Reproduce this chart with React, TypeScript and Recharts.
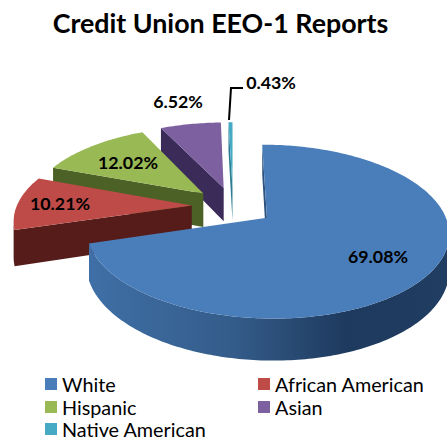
import { PieChart, Pie, Legend } from 'recharts';

const names = ['White', 'African American', 'Hispanic', 'Asian', 'Native American'];
const shares = [69.08, 10.21, 12.02, 6.52, 0.43];
const tops = ['#4a7ebb', '#be4b48', '#98b954', '#7d60a0', '#46aac5'];
const walls = ['url(#whiteRim)', '#551c1a', '#4c6126', '#3a2b58', '#2c7d93'];
const labelAt = [
  [378, 256],
  [60, 203],
  [128, 162],
  [178, 101],
  [271, 82],
];

// painted back to front, so the table runs counter-clockwise and ends on White
const table = names
  .map((name, i) => ({ name, value: shares[i], fill: tops[i], wall: walls[i], at: labelAt[i] }))
  .reverse();

const FONT = 'Lato, sans-serif';
const TILT = 0.463;
const PERSPECTIVE = 0.157;
const EXPLODE = 0.236;
const DEPTH = 34.5;
const RAD = Math.PI / 180;

function Slice3D(props: any) {
  const { cx, cy, outerRadius: r, startAngle, endAngle, midAngle, fill, payload } = props;
  const ox = EXPLODE * Math.cos(midAngle * RAD);
  const oy = EXPLODE * Math.sin(midAngle * RAD);

  const project = (u: number, v: number) => {
    const w = 1 + PERSPECTIVE * (v + oy);
    return {
      x: cx + (r * (u + ox)) / w,
      y: cy - (r * TILT * (v + oy)) / w,
      d: DEPTH / w,
    };
  };

  // clockwise on screen: rim from the larger angle down to the smaller, then the apex
  const hi = Math.max(startAngle, endAngle);
  const lo = Math.min(startAngle, endAngle);
  const pts = [];
  const steps = Math.max(2, Math.ceil(hi - lo));
  for (let i = 0; i <= steps; i++) {
    const a = (hi - ((hi - lo) * i) / steps) * RAD;
    pts.push(project(Math.cos(a), Math.sin(a)));
  }
  pts.push(project(0, 0));

  let faces = '';
  for (let i = 0; i < pts.length; i++) {
    const p = pts[i];
    const q = pts[(i + 1) % pts.length];
    // only edges running leftwards on a clockwise outline face the viewer
    if (q.x < p.x) {
      faces += `M${p.x},${p.y}L${q.x},${q.y}L${q.x},${q.y + q.d}L${p.x},${p.y + p.d}Z`;
    }
  }
  const top = 'M' + pts.map((p) => `${p.x},${p.y}`).join('L') + 'Z';

  return (
    <g>
      <path d={faces} fill={payload.wall} />
      <path d={top} fill={fill} />
    </g>
  );
}

function renderLabel(props: any) {
  const { payload } = props;
  const [x, y] = payload.at;
  return (
    <g>
      {payload.name === 'Native American' && (
        <path d="M229,120L231,88L243,88" fill="none" stroke="#000" strokeWidth={2} />
      )}
      <text x={x} y={y} textAnchor="middle" dominantBaseline="central" fontFamily={FONT} fontWeight={700} fontSize={17.8} fill="#000">
        {payload.value.toFixed(2)}%
      </text>
    </g>
  );
}

function LegendBlock() {
  return (
    <div style={{ display: 'grid', gridTemplateColumns: '213px 1fr', fontFamily: FONT, fontSize: 19.8, lineHeight: '22.5px', color: '#000' }}>
      {names.map((name, i) => (
        <div key={name} style={{ display: 'flex', alignItems: 'center' }}>
          <span style={{ width: 12, height: 12, background: tops[i], marginRight: 5 }} />
          {name}
        </div>
      ))}
    </div>
  );
}

export default function App() {
  return (
    <div style={{ position: 'absolute', left: 0, top: 0, width: 447, height: 441, background: '#fff' }}>
      <PieChart width={447} height={441} margin={{ top: 0, right: 0, bottom: 0, left: 0 }}>
        <defs>
          <linearGradient id="whiteRim" gradientUnits="userSpaceOnUse" x1={90} y1={0} x2={447} y2={0}>
            <stop offset="0" stopColor="#3f6fa6" />
            <stop offset="0.4" stopColor="#345c8a" />
            <stop offset="0.72" stopColor="#1e3a5e" />
            <stop offset="1" stopColor="#203d62" />
          </linearGradient>
        </defs>
        <text x={220.5} y={23} textAnchor="middle" dominantBaseline="central" fontFamily={FONT} fontWeight={700} fontSize={26.8} fill="#000">
          Credit Union EEO-1 Reports
        </text>
        <Pie
          data={table}
          dataKey="value"
          nameKey="name"
          cx={233}
          cy={206}
          outerRadius={175}
          startAngle={90}
          endAngle={450}
          shape={Slice3D}
          label={renderLabel}
          labelLine={false}
          stroke="none"
          isAnimationActive={false}
        />
        <Legend content={LegendBlock} wrapperStyle={{ left: 45, top: 373, width: 400 }} />
      </PieChart>
    </div>
  );
}
